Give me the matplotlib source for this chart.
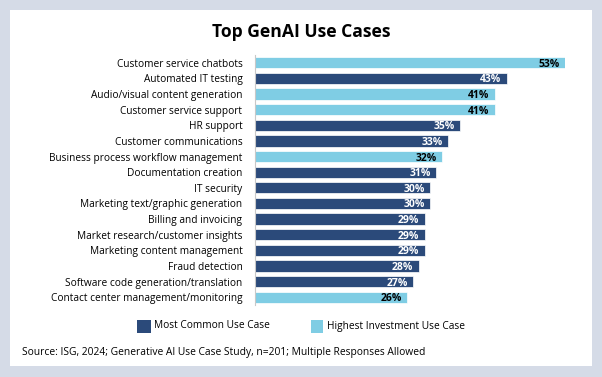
import matplotlib
matplotlib.use("Agg")
import matplotlib.pyplot as plt
from matplotlib import font_manager
from matplotlib.patches import Rectangle

names = {f.name for f in font_manager.fontManager.ttflist}
FONT = "Liberation Sans Narrow" if "Liberation Sans Narrow" in names else "Open Sans"
plt.rcParams["font.family"] = [FONT, "DejaVu Sans"]

categories = [
    "Customer service chatbots",
    "Automated IT testing",
    "Audio/visual content generation",
    "Customer service support",
    "HR support",
    "Customer communications",
    "Business process workflow management",
    "Documentation creation",
    "IT security",
    "Marketing text/graphic generation",
    "Billing and invoicing",
    "Market research/customer insights",
    "Marketing content management",
    "Fraud detection",
    "Software code generation/translation",
    "Contact center management/monitoring",
]
values = [53, 43, 41, 41, 35, 33, 32, 31, 30, 30, 29, 29, 29, 28, 27, 26]
highest_investment = [True, False, True, True, False, False, True, False,
                      False, False, False, False, False, False, False, True]

DARK = "#2b4a7a"
LIGHT = "#7fcde4"
BORDER = "#d5dbe7"

W, H = 602, 377
fig = plt.figure(figsize=(W / 100, H / 100), dpi=100)
fig.patch.set_facecolor(BORDER)
fig.patches.append(Rectangle((10 / W, 11 / H), 582 / W, 356 / H,
                             transform=fig.transFigure, facecolor="white",
                             edgecolor="none", zorder=-5))

ax = fig.add_axes([255 / W, (H - 305) / H, 310 / W, 250 / H])
ax.set_facecolor("none")
colors = [LIGHT if h else DARK for h in highest_investment]
y = list(range(len(categories)))
ax.barh(y, values, height=0.72, color=colors, edgecolor="white", linewidth=0.5)
ax.set_xlim(0, 53)
ax.set_ylim(len(categories) - 0.5, -0.5)
ax.set_yticks(y)
ax.set_yticklabels(categories, fontsize=7.3)
ax.tick_params(axis="y", length=0, pad=9)
ax.set_xticks([])
for side in ["top", "right", "bottom"]:
    ax.spines[side].set_visible(False)
ax.spines["left"].set_color("#c8c8c8")
ax.spines["left"].set_linewidth(0.8)

for yi, v, h in zip(y, values, highest_investment):
    ax.text(v - 0.9, yi, f"{v}%", ha="right", va="center_baseline", fontsize=7.5,
            fontweight="bold", color="black" if h else "white")

fig.text(301 / W, 1 - 32 / H, "Top GenAI Use Cases", ha="center", va="center",
         fontsize=12.6, fontweight="bold")

# legend
fig.patches.append(Rectangle((137 / W, 1 - 333 / H), 14 / W, 13 / H,
                             transform=fig.transFigure, facecolor=DARK))
fig.text(154 / W, 1 - 326 / H, "Most Common Use Case", ha="left", va="center", fontsize=7.3)
fig.patches.append(Rectangle((311 / W, 1 - 333 / H), 12 / W, 13 / H,
                             transform=fig.transFigure, facecolor=LIGHT))
fig.text(327 / W, 1 - 326 / H, "Highest Investment Use Case", ha="left", va="center", fontsize=7.3)

fig.text(22 / W, 1 - 352 / H,
         "Source: ISG, 2024; Generative AI Use Case Study, n=201; Multiple Responses Allowed",
         ha="left", va="center", fontsize=7.35)

fig.savefig("out.png", dpi=100, facecolor=fig.get_facecolor())
